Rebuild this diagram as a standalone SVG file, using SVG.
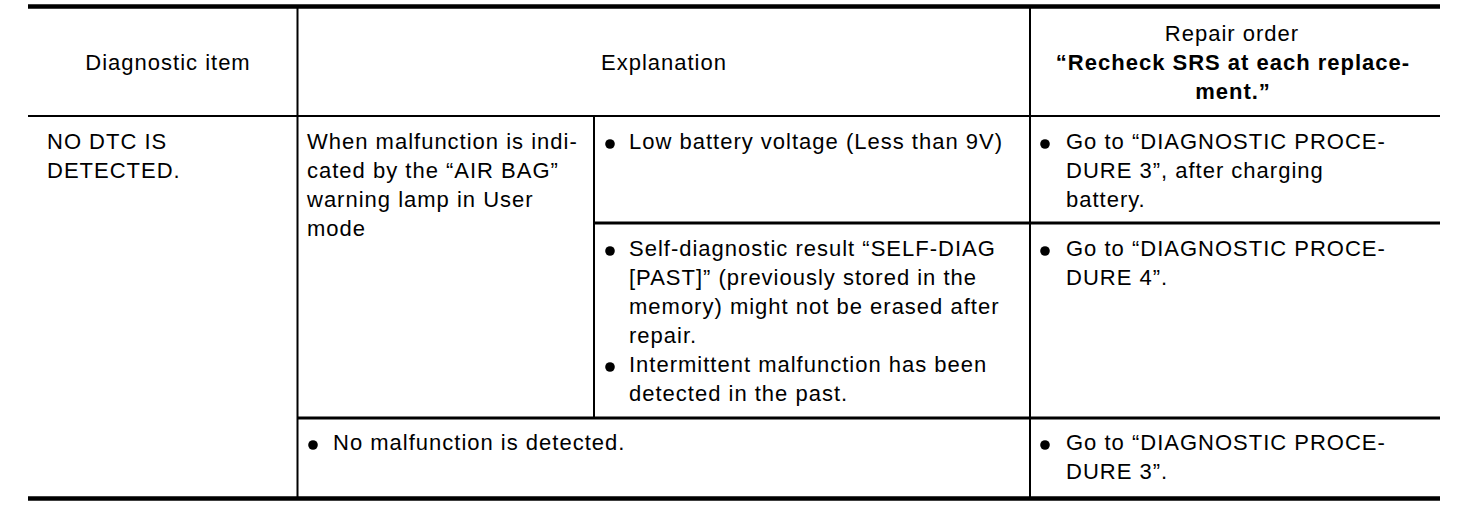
<svg xmlns="http://www.w3.org/2000/svg" width="1472" height="514" viewBox="0 0 1472 514">
<style>
text{font-family:"Liberation Sans",Arial,Helvetica,sans-serif;font-size:22px;fill:#000;letter-spacing:1px}
.b{font-weight:bold}
.c{text-anchor:middle}
.thick{stroke:#000;stroke-width:4.5}
.thin{stroke:#000;stroke-width:2}
.mid{stroke:#000;stroke-width:3}
.dot{fill:#000}
</style>
<rect width="1472" height="514" fill="#fff"/>
<g id="grid">
<line class="thick" x1="28" y1="6.5" x2="1440" y2="6.5"/>
<line class="thin" x1="28" y1="116" x2="1440" y2="116"/>
<line class="mid" x1="594" y1="223" x2="1440" y2="223"/>
<line class="mid" x1="297" y1="418" x2="1440" y2="418"/>
<line class="thick" x1="28" y1="498.5" x2="1440" y2="498.5"/>
<line class="thin" x1="297.5" y1="6" x2="297.5" y2="497"/>
<line class="thin" x1="594" y1="116" x2="594" y2="418"/>
<line class="thin" x1="1030" y1="6" x2="1030" y2="497"/>
</g>
<g id="header-item"><text class="c" x="168" y="70">Diagnostic item</text></g>
<g id="header-explanation"><text class="c" x="664" y="70">Explanation</text></g>
<g id="header-repair">
<text class="c" x="1232" y="41">Repair order</text>
<text class="c b" x="1233" y="70">“Recheck SRS at each replace-</text>
<text class="c b" x="1233" y="99">ment.”</text>
</g>
<g id="item-no-dtc">
<text x="47" y="149">NO DTC IS</text>
<text x="47" y="178">DETECTED.</text>
</g>
<g id="cond-user-mode">
<text x="307" y="149">When malfunction is indi-</text>
<text x="307" y="178">cated by the “AIR BAG”</text>
<text x="307" y="207">warning lamp in User</text>
<text x="307" y="236">mode</text>
</g>
<g id="expl-low-battery">
<circle class="dot" cx="610" cy="144" r="4.8"/>
<text x="629" y="149">Low battery voltage (Less than 9V)</text>
</g>
<g id="repair-1">
<circle class="dot" cx="1045" cy="144" r="4.8"/>
<text x="1066" y="149">Go to “DIAGNOSTIC PROCE-</text>
<text x="1066" y="178">DURE 3”, after charging</text>
<text x="1066" y="207">battery.</text>
</g>
<g id="expl-past">
<circle class="dot" cx="610" cy="251" r="4.8"/>
<text x="629" y="256">Self-diagnostic result “SELF-DIAG</text>
<text x="629" y="285">[PAST]” (previously stored in the</text>
<text x="629" y="314">memory) might not be erased after</text>
<text x="629" y="343">repair.</text>
<circle class="dot" cx="610" cy="367" r="4.8"/>
<text x="629" y="372">Intermittent malfunction has been</text>
<text x="629" y="401">detected in the past.</text>
</g>
<g id="repair-2">
<circle class="dot" cx="1045" cy="251" r="4.8"/>
<text x="1066" y="256">Go to “DIAGNOSTIC PROCE-</text>
<text x="1066" y="285">DURE 4”.</text>
</g>
<g id="expl-none">
<circle class="dot" cx="313" cy="445" r="4.8"/>
<text x="333" y="450">No malfunction is detected.</text>
</g>
<g id="repair-3">
<circle class="dot" cx="1045" cy="445" r="4.8"/>
<text x="1066" y="450">Go to “DIAGNOSTIC PROCE-</text>
<text x="1066" y="479">DURE 3”.</text>
</g>
</svg>
